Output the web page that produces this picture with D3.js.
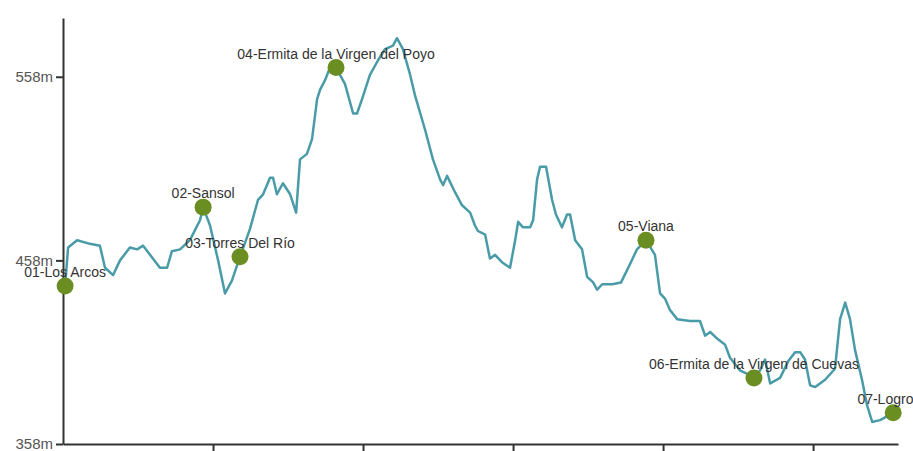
<!DOCTYPE html>
<html>
<head>
<meta charset="utf-8">
<script src="https://cdnjs.cloudflare.com/ajax/libs/d3/7.8.5/d3.min.js"></script>
<style>
    body { margin: 0; overflow: hidden; background: #fff; }
    .axis path, .axis line { stroke: #333; stroke-width: 2; }
    .axis text { font-family: "Liberation Sans", Arial, sans-serif; font-size: 15px; fill: #555; }
</style>
</head>
<body>
<script>
// distance along the route (km) and elevation (m)
var distKm = [0.07, 0.17, 0.47, 0.9, 1.23, 1.4, 1.67, 1.9, 2.23, 2.47, 2.67, 2.9, 3.23, 3.47, 3.63, 3.9,
    4.23, 4.57, 4.67, 4.9, 5.17, 5.4, 5.63, 5.9, 6.23, 6.5, 6.67, 6.9, 7.0, 7.13, 7.33, 7.57, 7.77,
    7.9, 8.13, 8.3, 8.47, 8.57, 8.73, 8.9, 9.1, 9.4, 9.67, 9.8, 9.97, 10.23, 10.5, 10.73, 11.0, 11.13,
    11.33, 11.57, 11.73, 12.07, 12.33, 12.57, 12.67, 12.8, 13.07, 13.3, 13.57, 13.73, 13.83, 14.07,
    14.23, 14.4, 14.63, 14.9, 15.07, 15.17, 15.33, 15.57, 15.67, 15.8, 15.9, 16.1, 16.3, 16.43, 16.63,
    16.8, 16.9, 17.07, 17.3, 17.47, 17.67, 17.8, 17.97, 18.3, 18.6, 18.9, 19.13, 19.43, 19.73, 19.9,
    20.07, 20.23, 20.47, 20.9, 21.23, 21.4, 21.57, 21.83, 22.07, 22.23, 22.57, 22.83, 23.03, 23.23,
    23.4, 23.57, 23.9, 24.17, 24.4, 24.57, 24.73, 24.9, 25.07, 25.4, 25.73, 25.9, 26.07, 26.23, 26.4,
    26.63, 26.8, 26.97, 27.23, 27.57, 27.67, 27.83];
var elevM = [444, 465, 469, 467, 466, 454, 450, 458, 465, 464, 466, 461, 454, 454, 463, 464,
    469, 480, 487, 477, 458, 440, 447, 460, 475, 491, 494, 503, 503, 494, 500, 494, 484,
    513, 516, 524, 546, 551, 556, 563, 563, 554, 538, 538, 546, 559, 567, 573, 575, 579,
    573, 559, 548, 529, 513, 502, 499, 504, 495, 488, 484, 477, 474, 472,
    459, 461, 457, 454, 469, 479, 476, 476, 480, 502, 509, 509, 491, 483, 476,
    483, 483, 469, 464, 449, 446, 442, 445, 445, 446, 456, 464, 469, 461, 440,
    437, 431, 426, 425, 425, 417, 419, 415, 412, 405, 398, 396, 394, 398,
    404, 391, 394, 403, 408, 408, 404, 390, 389, 393, 399, 426, 435, 426, 409,
    393, 379, 370, 371, 374, 375, 377];

// stages along the way
var stopNames = ["01-Los Arcos", "02-Sansol", "03-Torres Del Río", "04-Ermita de la Virgen del Poyo",
    "05-Viana", "06-Ermita de la Virgen de Cuevas", "07-Logroño"];
var stopKm = [0.07, 4.67, 5.9, 9.1, 19.43, 23.03, 27.67];
var stopElev = [444, 487, 460, 563, 469, 394, 375];

var yTicks = [358, 458, 558];
var xTicks = [5, 10, 15, 20, 25];

var width = 960,
    height = 480;

var svg = d3.select('body')
    .append('svg')
    .attr('width', width)
    .attr('height', height);

var x = d3.scaleLinear().domain([0, 27.83]).range([63, 898]);
var y = d3.scaleLinear().domain([358, 590]).range([444, 18]);

svg.append("g")
    .attr("class", "axis")
    .attr("transform", "translate(0,444)")
    .call(d3.axisBottom(x).tickValues(xTicks).tickSize(8).tickSizeOuter(0)
        .tickFormat(function (d) { return d + " km"; }));

svg.append("g")
    .attr("class", "axis")
    .attr("transform", "translate(63,0)")
    .call(d3.axisLeft(y).tickValues(yTicks).tickSize(7).tickSizeOuter(0)
        .tickFormat(function (d) { return d + "m"; }));

var profile = distKm.map(function (d, i) {
    return [d, elevM[i]];
});

var line = d3.line()
    .x(function (d) { return x(d[0]); })
    .y(function (d) { return y(d[1]); });

svg.append("path")
    .datum(profile)
    .attr("d", line)
    .attr("fill", "none")
    .attr("stroke", "#4a9ba8")
    .attr("stroke-width", 2.5)
    .attr("stroke-linejoin", "round");

for (var i = 0; i < stopNames.length; ++i) {
    svg.append("circle")
        .attr("r", 8.5)
        .attr("cx", x(stopKm[i]))
        .attr("cy", y(stopElev[i]))
        .attr("fill", "#6b8e23");
}

for (var j = 0; j < stopNames.length; ++j) {
    svg.append("text")
        .attr("transform", "translate(" + x(stopKm[j]) + "," + (y(stopElev[j]) - 9) + ")")
        .attr("text-anchor", "middle")
        .style("font-family", "Liberation Sans, Arial, sans-serif")
        .style("font-size", "14px")
        .style("fill", "#333")
        .text(stopNames[j]);
}
</script>
</body>
</html>
